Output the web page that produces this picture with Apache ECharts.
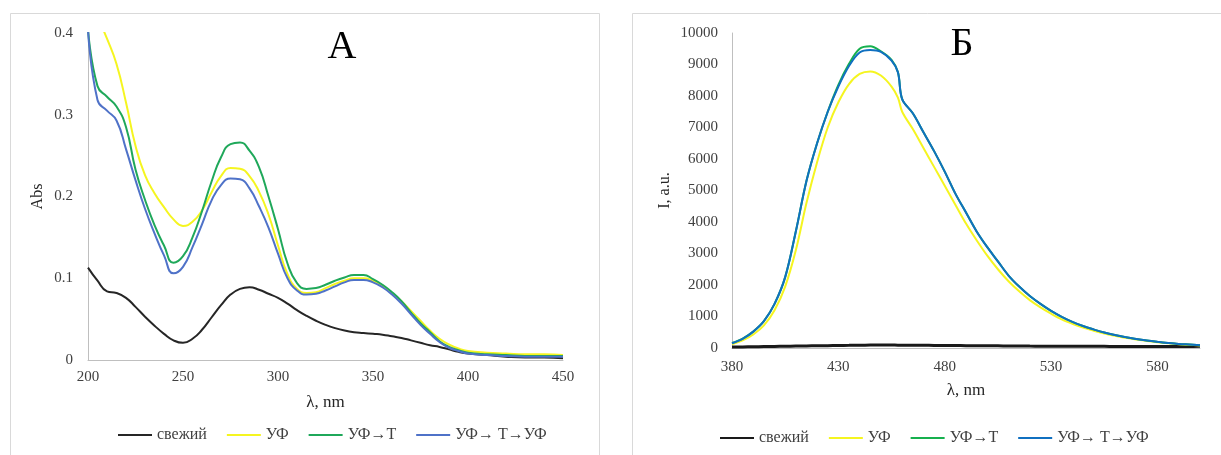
<!DOCTYPE html>
<html><head><meta charset="utf-8">
<script src="https://cdn.jsdelivr.net/npm/echarts/dist/echarts.min.js"></script>
<style>html,body{margin:0;padding:0;background:#fff}#c{width:1221px;height:455px}</style>
</head><body><div id="c"></div><script>
// ---- Panel A: absorbance ----
const absWl = [200,205,210,215,220,225,230,235,240,245,250,255,260,265,270,275,280,285,290,295,300,305,310,315,320,325,330,335,340,345,350,355,360,365,370,375,380,385,390,395,400,410,420,430,440,450];
const absFresh = [0.113,0.097,0.084,0.082,0.076,0.065,0.053,0.042,0.032,0.024,0.021,0.026,0.037,0.052,0.067,0.080,0.087,0.089,0.086,0.081,0.076,0.069,0.061,0.054,0.048,0.043,0.039,0.036,0.034,0.033,0.032,0.031,0.029,0.027,0.024,0.021,0.018,0.016,0.013,0.010,0.008,0.006,0.004,0.003,0.003,0.002];
const absUV = [0.445,0.420,0.393,0.362,0.315,0.262,0.226,0.204,0.187,0.172,0.164,0.169,0.183,0.205,0.225,0.235,0.234,0.225,0.206,0.178,0.140,0.105,0.087,0.082,0.083,0.088,0.093,0.097,0.100,0.100,0.097,0.091,0.082,0.072,0.060,0.048,0.036,0.026,0.019,0.014,0.011,0.009,0.008,0.007,0.007,0.006];
const absUVT = [0.405,0.335,0.322,0.310,0.285,0.233,0.196,0.165,0.140,0.119,0.127,0.150,0.182,0.218,0.248,0.264,0.266,0.256,0.236,0.200,0.160,0.118,0.094,0.087,0.088,0.092,0.097,0.101,0.104,0.104,0.099,0.092,0.083,0.072,0.058,0.045,0.034,0.023,0.016,0.012,0.009,0.007,0.006,0.005,0.005,0.005];
const absUVTUV = [0.405,0.318,0.305,0.293,0.258,0.220,0.185,0.155,0.128,0.106,0.114,0.138,0.166,0.195,0.214,0.222,0.221,0.210,0.188,0.162,0.130,0.100,0.085,0.080,0.081,0.085,0.090,0.095,0.098,0.098,0.095,0.089,0.080,0.069,0.056,0.043,0.032,0.022,0.015,0.011,0.008,0.006,0.005,0.004,0.004,0.004];
const absYTicks = [0,0.1,0.2,0.3,0.4];
const absXTicks = [200,250,300,350,400,450];

// ---- Panel Б: fluorescence ----
const flWl = [380,385,390,395,400,405,410,415,420,425,430,435,440,445,450,455,458,460,465,470,475,480,485,490,495,500,505,510,515,520,525,530,535,540,545,550,555,560,565,570,575,580,585,590,595,600];
const flFresh = [30,35,40,45,50,55,60,65,70,75,80,85,90,92,93,92,91,90,88,85,83,80,78,75,73,70,68,65,63,60,59,58,57,55,54,53,52,50,49,48,47,46,47,48,50,52];
const flUV = [120,240,430,720,1200,1950,3100,4600,5900,7000,7800,8380,8700,8780,8650,8300,7950,7500,6950,6350,5750,5150,4550,3950,3420,2930,2500,2120,1800,1520,1290,1090,910,770,650,550,460,385,325,270,225,185,150,120,100,80];
const flUVT = [160,300,520,850,1400,2250,3700,5300,6500,7500,8350,9020,9500,9580,9420,9150,8760,7900,7450,6850,6250,5600,4900,4300,3700,3200,2750,2300,1950,1650,1400,1180,990,830,700,590,490,410,345,285,235,195,160,130,110,90];
const flUVTUV = [150,290,520,850,1400,2250,3700,5300,6500,7500,8300,8950,9380,9460,9400,9120,8750,7900,7450,6850,6250,5600,4900,4300,3700,3200,2750,2300,1950,1650,1400,1180,990,830,700,590,490,410,345,285,235,195,160,130,110,90];
const flXTicks = [380,430,480,530,580];

const names = ['свежий','УФ','УФ→Т','УФ→ Т→УФ'];
const colsA = ['#262626','#F5F520','#1FA85A','#4F72C8'];
const colsB = ['#1a1a1a','#F5F520','#16B04E','#1070C0'];

const serif = '"Liberation Serif", "Times New Roman", serif';
const pairs = (wl, v) => wl.map((x, i) => [x, v[i]]);

const chart = echarts.init(document.getElementById('c'), null, {renderer: 'canvas'});

const axisLabel = {color: '#404040', fontFamily: serif, fontSize: 15};
const axisLine = {show: true, lineStyle: {color: '#bfbfbf', width: 1}};

function lineSeries(name, data, color, xi, width, smooth) {
  return {type: 'line', name, data, xAxisIndex: xi, yAxisIndex: xi, symbol: 'none', smooth,
    lineStyle: {color, width: width || 2}, itemStyle: {color}, z: 2};
}

const absSeries = [absFresh, absUV, absUVT, absUVTUV];
const flSeries = [flFresh, flUV, flUVT, flUVTUV];

const option = {
  animation: false,
  backgroundColor: '#fff',
  graphic: [
    {type: 'rect', shape: {x: 10.5, y: 13.5, width: 589, height: 470}, style: {fill: 'none', stroke: '#d9d9d9', lineWidth: 1}, silent: true, z: -10},
    {type: 'rect', shape: {x: 632.5, y: 13.5, width: 620, height: 470}, style: {fill: 'none', stroke: '#d9d9d9', lineWidth: 1}, silent: true, z: -10},
    {type: 'text', x: 342, y: 47, style: {text: 'А', font: '40px ' + serif, fill: '#000', textAlign: 'center', textVerticalAlign: 'middle'}},
    {type: 'text', x: 962, y: 44, style: {text: 'Б', font: '40px ' + serif, fill: '#000', textAlign: 'center', textVerticalAlign: 'middle'}}
  ],
  grid: [
    {left: 88, top: 33, width: 475, height: 327},
    {left: 732, top: 33, width: 468, height: 315}
  ],
  xAxis: [
    {type: 'value', gridIndex: 0, min: absXTicks[0], max: absXTicks[absXTicks.length - 1], interval: 50,
      axisLine, axisTick: {show: false}, splitLine: {show: false},
      axisLabel: Object.assign({}, axisLabel, {margin: 10}),
      name: 'λ, nm', nameLocation: 'middle', nameGap: 34,
      nameTextStyle: {fontFamily: serif, fontSize: 17, color: '#262626'}},
    {type: 'value', gridIndex: 1, min: flXTicks[0], max: 600, interval: 50,
      axisLine, axisTick: {show: false}, splitLine: {show: false},
      axisLabel: Object.assign({}, axisLabel, {margin: 12, formatter: v => flXTicks.includes(v) ? String(v) : ''}),
      name: 'λ, nm', nameLocation: 'middle', nameGap: 34,
      nameTextStyle: {fontFamily: serif, fontSize: 17, color: '#262626'}}
  ],
  yAxis: [
    {type: 'value', gridIndex: 0, min: absYTicks[0], max: absYTicks[absYTicks.length - 1], interval: 0.1,
      axisLine, axisTick: {show: false}, splitLine: {show: false},
      axisLabel: Object.assign({}, axisLabel, {margin: 15, formatter: v => v === 0 ? '0' : v.toFixed(1)}),
      name: 'Abs', nameLocation: 'middle', nameGap: 42, nameRotate: 90,
      nameTextStyle: {fontFamily: serif, fontSize: 16, color: '#262626'}},
    {type: 'value', gridIndex: 1, min: 0, max: 10000, interval: 1000,
      axisLine, axisTick: {show: false}, splitLine: {show: false},
      axisLabel: Object.assign({}, axisLabel, {margin: 14, formatter: v => String(v)}),
      name: 'I, a.u.', nameLocation: 'middle', nameGap: 59, nameRotate: 90,
      nameTextStyle: {fontFamily: serif, fontSize: 16, color: '#262626'}}
  ],
  legend: [
    {left: 118, top: 427, padding: 0, icon: 'rect', itemWidth: 34, itemHeight: 2, itemGap: 20,
      textStyle: {fontFamily: serif, fontSize: 16, color: '#404040'},
      data: names.map((n, i) => ({name: n, itemStyle: {color: colsA[i]}}))},
    {left: 720, top: 430, padding: 0, icon: 'rect', itemWidth: 34, itemHeight: 2, itemGap: 20,
      textStyle: {fontFamily: serif, fontSize: 16, color: '#404040'},
      data: names.map((n, i) => ({name: n, itemStyle: {color: colsB[i]}}))}
  ],
  series: [
    ...absSeries.map((v, i) => lineSeries(names[i], pairs(absWl, v), colsA[i], 0, 2, 0.5)),
    ...flSeries.map((v, i) => lineSeries(names[i], pairs(flWl, v), colsB[i], 1, i === 0 ? 3 : 2, 0.35))
  ]
};
chart.setOption(option);
</script></body></html>
